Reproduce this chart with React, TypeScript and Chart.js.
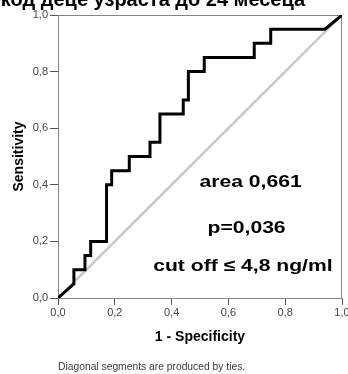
import React, { useEffect, useRef } from "react";
import { Chart, registerables } from "chart.js";

Chart.register(...registerables);

const fpr = [0, 0.056, 0.056, 0.095, 0.095, 0.115, 0.115, 0.171, 0.171, 0.189, 0.189, 0.251, 0.251, 0.324, 0.324, 0.359, 0.359, 0.441, 0.441, 0.459, 0.459, 0.515, 0.515, 0.691, 0.691, 0.749, 0.749, 0.94, 1];
const tpr = [0, 0.05, 0.10, 0.10, 0.15, 0.15, 0.20, 0.20, 0.40, 0.40, 0.45, 0.45, 0.50, 0.50, 0.55, 0.55, 0.65, 0.65, 0.70, 0.70, 0.80, 0.80, 0.85, 0.85, 0.90, 0.90, 0.95, 0.95, 1];
const refX = [0, 1];
const refY = [0, 1];
const tickValues = [0, 0.2, 0.4, 0.6, 0.8, 1.0];
const titleText = "код деце узраста до 24 месеца";
const xTitle = "1 - Specificity";
const yTitle = "Sensitivity";
const annotations = ["area 0,661", "p=0,036", "cut off ≤ 4,8 ng/ml"];
const footnote = "Diagonal segments are produced by ties.";

const FONT = "Arial, 'Liberation Sans', sans-serif";

export default function App() {
  const ref = useRef<HTMLCanvasElement | null>(null);
  useEffect(() => {
    if (!ref.current) return;
    const deco = {
      id: "deco",
      beforeDatasetsDraw(chart: any) {
        const { ctx, chartArea } = chart;
        ctx.save();
        ctx.strokeStyle = "#858585";
        ctx.lineWidth = 1;
        ctx.strokeRect(chartArea.left + 0.5, chartArea.top + 0.5, chartArea.right - chartArea.left - 1, chartArea.bottom - chartArea.top);
        ctx.restore();
      },
      afterDatasetsDraw(chart: any) {
        const { ctx, chartArea, scales } = chart;
        const xs = scales.x;
        const ys = scales.y;
        ctx.save();
        ctx.fillStyle = "#000";
        ctx.textAlign = "center";
        ctx.textBaseline = "alphabetic";
        ctx.font = "bold 16.5px " + FONT;
        const cxs = [0.678, 0.664, 0.651];
        const yv = [0.393, 0.23, 0.094];
        annotations.forEach((t, i) => {
          ctx.save();
          ctx.translate(xs.getPixelForValue(cxs[i]), ys.getPixelForValue(yv[i]));
          ctx.scale(1.28, 1);
          ctx.fillText(t, 0, 0);
          ctx.restore();
        });
        // chart title (clipped at top)
        ctx.font = "bold 20px " + FONT;
        ctx.fillText(titleText, 153, 6);
        // axis titles
        ctx.font = "bold 14px " + FONT;
        ctx.fillText(xTitle, (chartArea.left + chartArea.right) / 2, 341);
        ctx.save();
        ctx.translate(23, (chartArea.top + chartArea.bottom) / 2);
        ctx.rotate(-Math.PI / 2);
        ctx.font = "bold 14px " + FONT;
        ctx.fillText(yTitle, 0, 0);
        ctx.restore();
        // footnote
        ctx.font = "10.3px " + FONT;
        ctx.fillStyle = "#3a3a3a";
        ctx.textAlign = "left";
        ctx.fillText(footnote, 58, 370);
        ctx.restore();
      },
    };
    const fmt = (v: any) => Number(v).toFixed(1).replace(".", ",");
    const chart = new Chart(ref.current, {
      type: "line",
      data: {
        datasets: [
          {
            data: fpr.map((x, i) => ({ x, y: tpr[i] })),
            borderColor: "#000",
            borderWidth: 3,
            pointRadius: 0,
            borderJoinStyle: "miter",
            borderCapStyle: "butt",
            tension: 0,
            fill: false,
            order: 0,
          },
          {
            data: refX.map((x, i) => ({ x, y: refY[i] })),
            borderColor: "#c8c8c8",
            borderWidth: 2.5,
            pointRadius: 0,
            fill: false,
            order: 1,
          },
        ],
      },
      options: {
        responsive: false,
        animation: false,
        plugins: { legend: { display: false }, tooltip: { enabled: false }, title: { display: false } },
        layout: { padding: { left: 0, top: 15, right: 6, bottom: 0 } },
        scales: {
          x: {
            type: "linear",
            min: 0,
            max: 1,
            afterBuildTicks: (s: any) => { s.ticks = tickValues.map((v) => ({ value: v })); },
            afterFit: (s: any) => { s.height = 76; s.paddingLeft = 0; s.paddingRight = 0; },
            ticks: { callback: fmt, color: "#444", font: { size: 11, family: FONT }, padding: 1, maxRotation: 0 },
            grid: { drawOnChartArea: false, drawTicks: true, tickLength: 7, color: "#555" },
            border: { display: true, color: "#858585" },
          },
          y: {
            type: "linear",
            min: 0,
            max: 1,
            afterBuildTicks: (s: any) => { s.ticks = tickValues.map((v) => ({ value: v })); },
            afterFit: (s: any) => { s.width = 58; s.paddingTop = 0; s.paddingBottom = 0; },
            ticks: { callback: fmt, color: "#444", font: { size: 11, family: FONT }, padding: 2 },
            grid: { drawOnChartArea: false, drawTicks: true, tickLength: 8, color: "#555" },
            border: { display: true, color: "#858585" },
          },
        },
      },
      plugins: [deco],
    } as any);
    return () => chart.destroy();
  }, []);
  return (
    <div style={{ position: "fixed", left: 0, top: 0, width: 348, height: 374, background: "#fff" }}>
      <canvas ref={ref} width={348} height={374} style={{ display: "block" }} />
    </div>
  );
}
